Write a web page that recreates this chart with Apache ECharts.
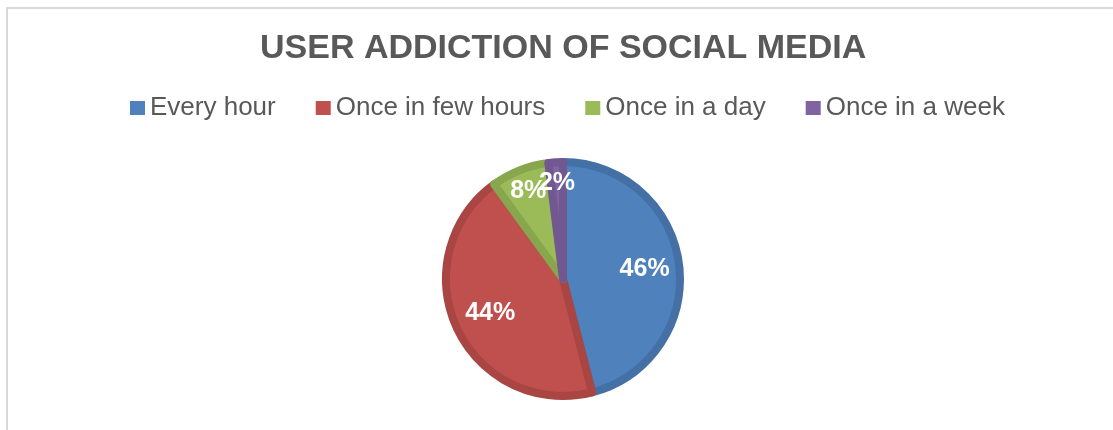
<!DOCTYPE html>
<html>
<head>
<meta charset="utf-8">
<title>User addiction of social media</title>
<script src="https://cdn.jsdelivr.net/npm/echarts@6/dist/echarts.min.js"></script>
<style>
  html, body { margin: 0; padding: 0; background: #ffffff; }
  #chart { width: 1113px; height: 430px; }
</style>
</head>
<body>
<div id="chart"></div>
<script>
// Survey answers: how often respondents check social media
const categories = ['Every hour', 'Once in few hours', 'Once in a day', 'Once in a week'];
const shares = [46, 44, 8, 2];

// Slice fills and their darker bevel edge
const fillColors = ['#4F81BD', '#C0504D', '#9BBB59', '#8064A2'];
const edgeColors = ['#4570A6', '#A94542', '#88A64E', '#715890'];
// How far out each percentage label sits, as a share of the pie radius
const labelReach = [0.68, 0.665, 0.78, 0.79];

const PIE_CX = 563, PIE_CY = 279, PIE_R = 121, EDGE = 8;

const chart = echarts.init(document.getElementById('chart'), null, { renderer: 'canvas' });

chart.setOption({
  animation: false,
  backgroundColor: '#ffffff',
  title: {
    text: 'USER ADDICTION OF SOCIAL MEDIA',
    left: 260,
    top: 32,
    padding: 0,
    textStyle: {
      fontFamily: 'Liberation Sans, Arial, sans-serif',
      fontWeight: 'bold',
      fontSize: 34,
      color: '#595959'
    }
  },
  legend: {
    data: categories,
    left: 130,
    top: 95,
    padding: 0,
    icon: 'rect',
    itemWidth: 15,
    itemHeight: 14,
    itemGap: 40,
    itemStyle: { borderWidth: 0 },
    textStyle: {
      fontFamily: 'Liberation Sans, Arial, sans-serif',
      fontSize: 26,
      color: '#595959'
    }
  },
  graphic: [{
    type: 'rect',
    silent: true,
    z: -1,
    shape: { x: 7, y: 8, width: 1300, height: 600 },
    style: { fill: 'none', stroke: '#D9D9D9', lineWidth: 2 }
  }],
  series: [{
    type: 'pie',
    center: [PIE_CX, PIE_CY],
    radius: PIE_R - EDGE / 2,
    startAngle: 90,
    clockwise: true,
    percentPrecision: 0,
    data: categories.map((name, i) => ({
      name: name,
      value: shares[i],
      itemStyle: {
        color: fillColors[i],
        borderColor: edgeColors[i],
        borderWidth: EDGE,
        borderJoin: 'round'
      }
    })),
    label: {
      show: true,
      position: 'inside',
      formatter: '{d}%',
      color: '#ffffff',
      fontFamily: 'Liberation Sans, Arial, sans-serif',
      fontWeight: 'bold',
      fontSize: 25
    },
    labelLine: { show: false },
    labelLayout: function (p) {
      const lx = p.labelRect.x + p.labelRect.width / 2;
      const ly = p.labelRect.y + p.labelRect.height / 2;
      const dist = Math.hypot(lx - PIE_CX, ly - PIE_CY) || 1;
      const k = labelReach[p.dataIndex] * PIE_R / dist;
      return { dx: (lx - PIE_CX) * (k - 1), dy: (ly - PIE_CY) * (k - 1) };
    },
    emphasis: { disabled: true }
  }]
});
</script>
</body>
</html>
